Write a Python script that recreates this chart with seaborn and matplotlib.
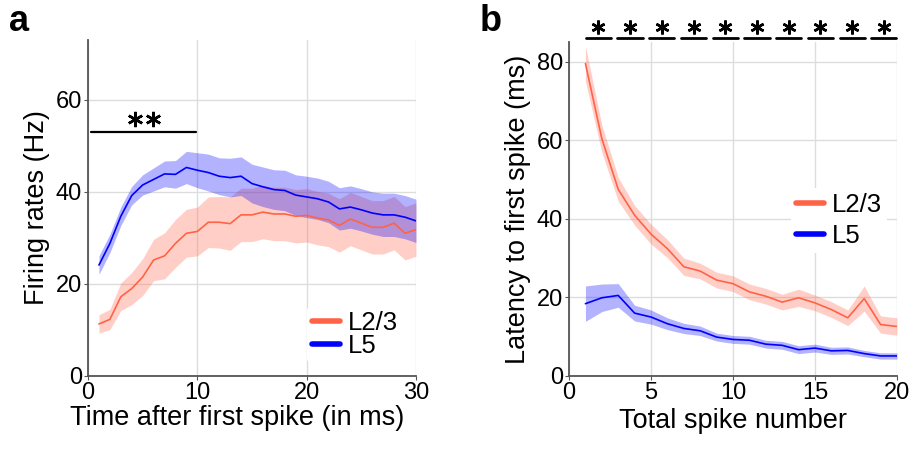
import numpy as np
import pandas as pd
import matplotlib
matplotlib.use("Agg")
import matplotlib.pyplot as plt
import seaborn as sns

# Panel a: firing rate vs time after first spike
time_ms = list(range(1, 31))
rate_l23 = [11.3, 12.3, 17.2, 19.0, 21.5, 25.2, 26.1, 28.8, 31.0, 31.4,
            33.4, 33.4, 33.1, 35.0, 35.0, 35.6, 35.2, 35.2, 34.7, 34.9,
            34.3, 33.9, 32.7, 34.1, 33.2, 32.3, 32.3, 33.2, 31.0, 31.8]
rate_l23_err = [2.0, 2.2, 3.0, 3.5, 4.0, 4.5, 5.0, 5.2, 5.2, 5.3,
                5.5, 5.6, 5.8, 5.8, 5.8, 5.8, 5.8, 5.8, 5.8, 5.8,
                5.8, 5.8, 5.8, 5.8, 5.8, 5.8, 5.8, 5.8, 5.8, 5.8]
rate_l5 = [24.1, 28.8, 34.7, 39.2, 41.5, 42.7, 43.9, 43.8, 45.3, 44.7,
           44.2, 43.4, 43.1, 43.4, 41.8, 41.1, 40.5, 40.3, 39.3, 38.9,
           38.5, 37.8, 36.3, 36.7, 36.1, 35.4, 35.0, 35.0, 34.5, 33.7]
rate_l5_err = [2.0, 2.0, 2.0, 2.0, 2.2, 2.5, 2.8, 3.0, 3.5, 3.8,
               4.0, 4.0, 4.2, 4.2, 4.2, 4.3, 4.3, 4.4, 4.4, 4.5,
               4.5, 4.5, 4.6, 4.6, 4.6, 4.6, 4.7, 4.7, 4.7, 4.7]

# Panel b: latency vs total spike number
spike_n = list(range(1, 21))
lat_l23 = [79.5, 60.4, 47.5, 40.9, 36.1, 32.4, 27.8, 26.7, 24.4, 23.5,
           21.4, 20.3, 18.8, 19.9, 18.6, 16.9, 14.8, 19.7, 13.1, 12.6]
lat_l23_err = [4.5, 3.5, 3.0, 2.5, 2.5, 2.3, 2.2, 2.0, 2.0, 2.0,
               2.0, 2.0, 2.0, 2.2, 2.0, 2.0, 2.0, 3.2, 2.2, 2.2]
lat_l5 = [18.4, 19.9, 20.5, 16.0, 15.0, 13.3, 12.1, 11.5, 9.9, 9.3,
          9.1, 8.1, 7.8, 6.7, 7.1, 6.4, 6.5, 5.7, 5.1, 5.1]
lat_l5_err = [4.5, 3.5, 3.0, 2.0, 1.8, 1.5, 1.3, 1.2, 1.0, 1.0,
              1.0, 1.0, 1.0, 1.0, 1.0, 0.9, 0.9, 0.8, 0.8, 0.8]

groups = ["L2/3", "L5"]
colors = {"L2/3": "#FF6347", "L5": "#0000FF"}

sns.set_style("whitegrid")
plt.rcParams["font.family"] = ["Liberation Sans", "DejaVu Sans"]
plt.rcParams["text.color"] = "black"
plt.rcParams["axes.labelcolor"] = "black"
plt.rcParams["xtick.color"] = "black"
plt.rcParams["ytick.color"] = "black"

df_a = pd.DataFrame({
    "t": time_ms * 2,
    "rate": rate_l23 + rate_l5,
    "err": rate_l23_err + rate_l5_err,
    "group": ["L2/3"] * len(time_ms) + ["L5"] * len(time_ms),
})
df_b = pd.DataFrame({
    "n": spike_n * 2,
    "lat": lat_l23 + lat_l5,
    "err": lat_l23_err + lat_l5_err,
    "group": ["L2/3"] * len(spike_n) + ["L5"] * len(spike_n),
})

fig = plt.figure(figsize=(9.15, 4.49), dpi=100)
ax1 = fig.add_axes([0.0962, 0.1626, 0.3584, 0.7484])
ax2 = fig.add_axes([0.6219, 0.1626, 0.3584, 0.7439])


def style_axes(ax):
    ax.grid(True, color="#dddddd", linewidth=1.0)
    for side in ["top", "right"]:
        ax.spines[side].set_visible(False)
    for side in ["left", "bottom"]:
        ax.spines[side].set_color("#555555")
        ax.spines[side].set_linewidth(1.3)
    ax.tick_params(axis="both", labelsize=17, length=3, color="#555555",
                   labelcolor="black", direction="out", left=True,
                   bottom=True, pad=1.5)


def draw_panel(ax, df, x, y):
    for g in groups:
        sub = df[df["group"] == g]
        ax.fill_between(sub[x], sub[y] - sub["err"], sub[y] + sub["err"],
                        color=colors[g], alpha=0.3, linewidth=0)
    sns.lineplot(data=df, x=x, y=y, hue="group", palette=colors,
                 linewidth=1.2, ax=ax, errorbar=None)
    leg_lines = [plt.Line2D([], [], color=colors[g], linewidth=4) for g in groups]
    return leg_lines


def add_legend(ax, handles, **kw):
    ax.legend(handles, groups, fontsize=18.5, frameon=True, facecolor="white",
              edgecolor="none", framealpha=1, handlelength=1.1,
              handletextpad=0.3, borderpad=0.2, **kw)


# Panel a
handles = draw_panel(ax1, df_a, "t", "rate")
style_axes(ax1)
ax1.set_xlim(0, 30)
ax1.set_ylim(0, 73)
ax1.set_xticks([0, 10, 20, 30])
ax1.set_yticks([0, 20, 40, 60])
ax1.set_xlabel("Time after first spike (in ms)", fontsize=19.5, labelpad=3)
ax1.xaxis.set_label_coords(0.455, -0.085)
ax1.set_ylabel("Firing rates (Hz)", fontsize=19.5, labelpad=4)
add_legend(ax1, handles, loc="lower right", bbox_to_anchor=(1.0, 0.0),
           labelspacing=-0.05)
ax1.plot([0.25, 9.9], [52.9, 52.9], color="black", linewidth=1.6)
ax1.plot([4.3, 5.9], [55.9, 55.9], linestyle="none", marker=(6, 2, 0),
         markersize=11, markeredgewidth=1.8, color="black")

# Panel b
handles = draw_panel(ax2, df_b, "n", "lat")
style_axes(ax2)
ax2.set_xlim(0, 20)
ax2.set_ylim(0, 85)
ax2.set_xticks([0, 5, 10, 15, 20])
ax2.set_yticks([0, 20, 40, 60, 80])
ax2.set_xlabel("Total spike number", fontsize=19.5, labelpad=3)
ax2.set_ylabel("Latency to first spike (ms)", fontsize=19.5, labelpad=4)
add_legend(ax2, handles, loc="center right", bbox_to_anchor=(1.01, 0.465),
           labelspacing=0.25)
sig_centers = np.linspace(1.79, 19.2, 10)
for c in sig_centers:
    ax2.plot([c - 0.77, c + 0.77], [86.1, 86.1], color="black",
             linewidth=2.0, clip_on=False)
ax2.plot(sig_centers, [88.9] * len(sig_centers), linestyle="none",
         marker=(6, 2, 0), markersize=10, markeredgewidth=1.8,
         color="black", clip_on=False)

fig.text(0.010, 0.99, "a", fontsize=26, fontweight="bold", va="top")
fig.text(0.524, 0.99, "b", fontsize=26, fontweight="bold", va="top")

fig.savefig("out.png", dpi=100)
